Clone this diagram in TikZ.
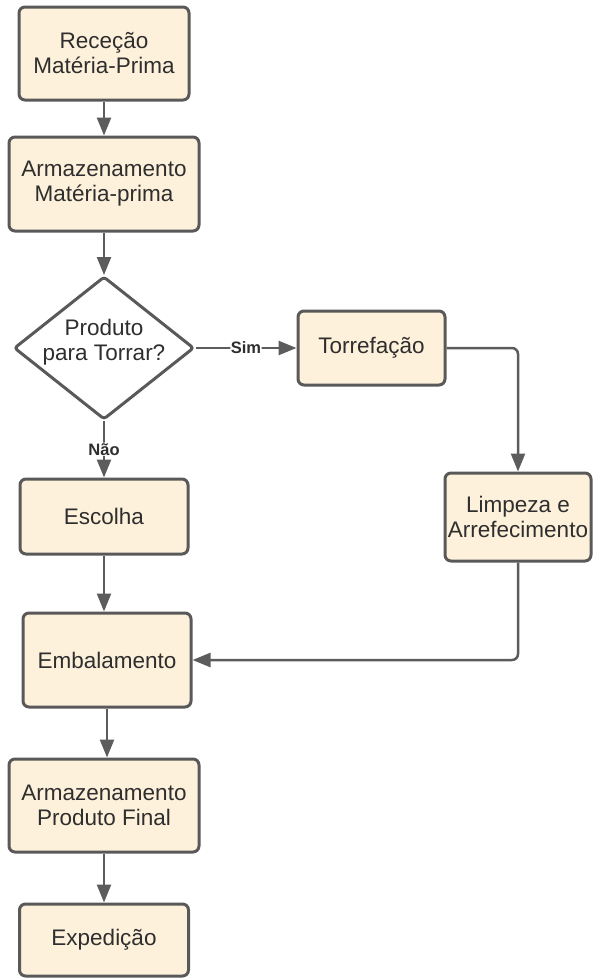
\documentclass[tikz,border=0pt]{standalone}
\usepackage{fontspec}
\setmainfont{Liberation Sans}
\usetikzlibrary{arrows.meta,shapes.geometric}
\definecolor{boxfill}{HTML}{FEF1DB}
\definecolor{boxline}{HTML}{595959}
\definecolor{linecol}{HTML}{5C5C5C}
\definecolor{txt}{HTML}{2E2E2E}
\begin{document}
\begin{tikzpicture}[x=1pt,y=-1pt,
  proc/.style={draw=boxline, line width=3pt, fill=boxfill, rounded corners=6pt,
    align=center, text=txt, inner sep=0pt,
    font=\fontsize{22.5}{25}\selectfont},
  decis/.style={diamond, draw=boxline, line width=3pt, fill=white,
    rounded corners=3pt, inner sep=0pt},
  txtnode/.style={align=center, text=txt, inner sep=0pt,
    font=\fontsize{22.5}{25}\selectfont},
  conn/.style={draw=linecol, line width=2.5pt,
    -{Triangle[length=18pt,width=14pt]}, rounded corners=6pt},
  lbl/.style={fill=white, text=txt, inner sep=0.5pt,
    font=\bfseries\fontsize{16.5}{18}\selectfont}]
\useasboundingbox (0,0) rectangle (593,978);

\node[proc, minimum width=170pt, minimum height=93pt] (rec) at (104,53.5) {Receção\\Matéria-Prima};
\node[proc, minimum width=190pt, minimum height=94pt] (armmp) at (104,184) {Armazenamento\\Matéria-prima};
\node[decis, minimum width=180pt, minimum height=143pt] (dec) at (104,348) {};
\node[txtnode] (dectxt) at (104,342) {Produto\\para Torrar?};
\node[proc, minimum width=147pt, minimum height=74pt] (torr) at (371.5,348) {Torrefação};
\node[proc, minimum width=146pt, minimum height=88pt] (limp) at (518,517) {Limpeza e\\Arrefecimento};
\node[proc, minimum width=168pt, minimum height=75pt] (esc) at (104,516.5) {Escolha};
\node[proc, minimum width=168pt, minimum height=94pt] (emb) at (107,660) {Embalamento};
\node[proc, minimum width=190pt, minimum height=93pt] (armpf) at (104,805.5) {Armazenamento\\Produto Final};
\node[proc, minimum width=169pt, minimum height=72pt] (exp) at (104,940) {Expedição};

\draw[conn] (rec) -- (armmp);
\draw[conn] (armmp) -- (dec);
\draw[conn] (dec.east) -- node[lbl] {Sim} (torr.west);
\draw[conn] (dec.south) -- node[lbl] {Não} (esc.north);
\draw[conn] (torr.east) -| (limp.north);
\draw[conn] (limp.south) |- (emb.east);
\draw[conn] (esc.south) -- (esc.south |- emb.north);
\draw[conn] (emb.south) -- (emb.south |- armpf.north);
\draw[conn] (armpf.south) -- (armpf.south |- exp.north);
\end{tikzpicture}
\end{document}
